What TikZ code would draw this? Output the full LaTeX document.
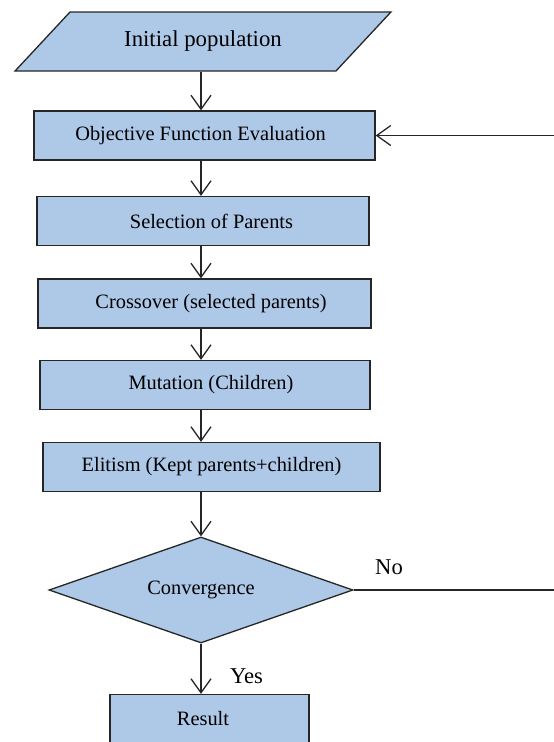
\documentclass[tikz,border=0pt]{standalone}
\usepackage{fontspec}
\setmainfont{Liberation Serif}
\usetikzlibrary{shapes.geometric,arrows.meta}
\definecolor{boxblue}{RGB}{174,200,232}
\def\spinex{201}

\begin{document}
\begin{tikzpicture}[x=1pt,y=-1pt,line width=1.3pt,draw=black!85,
    font=\fontsize{20.4}{24}\selectfont]
    \tikzstyle{every label}=[inner sep=0pt]
    \tikzstyle{flow}=[-{Straight Barb[length=14pt,width=20pt]}]
    \tikzstyle{process}=[rectangle,draw,fill=boxblue,minimum height=49pt,inner sep=0pt]
    \tikzstyle{io}=[trapezium,trapezium left angle=32.4,trapezium right angle=147.6,
        trapezium stretches=true,draw,fill=boxblue,minimum width=376pt,
        minimum height=59pt,inner sep=0pt]
    \tikzstyle{decision}=[diamond,aspect=2.87,draw,fill=boxblue,minimum width=304pt,
        minimum height=106pt,inner sep=0pt]
    \tikzstyle{answer}=[font=\fontsize{22.6}{26}\selectfont]

    \useasboundingbox (0,0) rectangle (554,742);
    \coordinate (spine) at (\spinex,0);
    \coordinate (loop) at (580,0);

    % Draw the input node
    \node[io,font=\fontsize{22.8}{27}\selectfont] (init) at (203,41.5) {Initial population};

    % Draw the process boxes
    \foreach \name/\y/\cx/\w/\dx/\txt in {
        obj/135.5/204.5/341/-4/Objective Function Evaluation,
        sel/221/203/332/8.5/Selection of Parents,
        cross/303.5/204.5/333/6.5/Crossover (selected parents),
        mut/385/205/330/6/Mutation (Children),
        elit/467/211.5/337/0/Elitism (Kept parents+children)}
        \node[process,minimum width=\w pt,label={[xshift=\dx pt]center:\txt}] (\name) at (\cx,\y) {};

    % Draw the test and the result
    \node[decision] (conv) at (201,590) {Convergence};
    \node[process,minimum width=199pt,label={[xshift=-6.5pt]center:Result}] (res) at (209.5,719) {};

    % Connect the steps one after the other
    \foreach \a/\b in {init/obj,obj/sel,sel/cross,cross/mut,mut/elit,elit/conv,conv/res}
        \draw[flow] (\a.south -| spine) -- (\b.north -| spine);

    % Loop back when not converged
    \draw[flow] (conv.east) -- (conv.east -| loop) |- (obj.east);
    \node[answer] (no) at (389,567) {No};
    \node[answer] (yes) at (246.5,676) {Yes};
\end{tikzpicture}
\end{document}
